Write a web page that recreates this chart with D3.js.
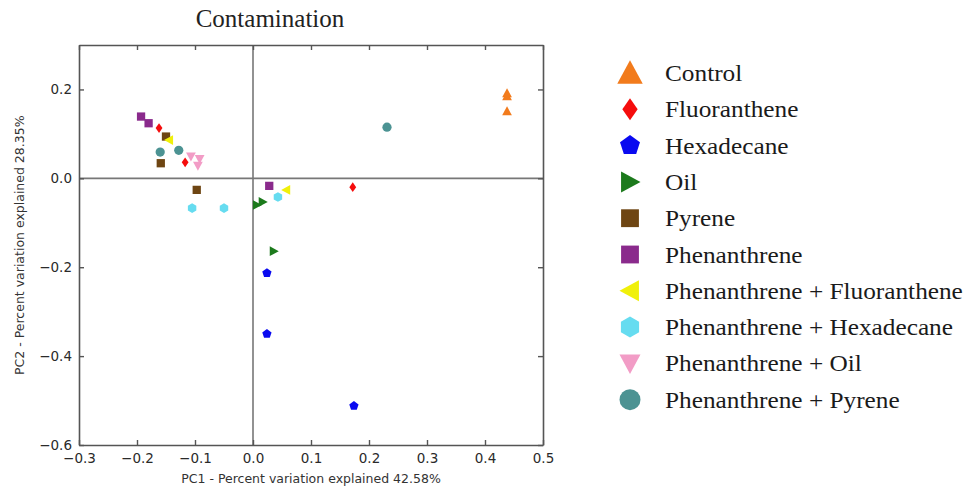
<!DOCTYPE html>
<html>
<head>
<meta charset="utf-8">
<script src="https://cdn.jsdelivr.net/npm/d3@7"></script>
<style>
  body { margin: 0; background: #fff; }
  svg { display: block; }
  .tick text { font-family: "DejaVu Sans", sans-serif; font-size: 13.5px; fill: #2a2a2a; }
  .frame path.domain { stroke: #555; stroke-width: 1.6; }
  .frame .tick line { stroke: #555; stroke-width: 1.4; }
  .axis-label { font-family: "DejaVu Sans", sans-serif; font-size: 12.5px; fill: #333; }
  .title { font-family: "Liberation Serif", serif; font-size: 25px; fill: #222; }
  .leg-label { font-family: "Liberation Serif", serif; font-size: 23px; fill: #1a1a1a; }
</style>
</head>
<body>
<svg id="chart" width="970" height="486"></svg>
<script>
// PCoA - contaminacion
const groups = [
  "Control", "Fluoranthene", "Hexadecane", "Oil", "Pyrene", "Phenanthrene",
  "Phenanthrene + Fluoranthene", "Phenanthrene + Hexadecane",
  "Phenanthrene + Oil", "Phenanthrene + Pyrene"
];

// PC1 por grupo (3 replicas)
const pc1Values = [
  [0.438, 0.438, 0.438],
  [-0.162, -0.117, 0.172],
  [0.024, 0.024, 0.174],
  [0.007, 0.017, 0.036],
  [-0.150, -0.159, -0.097],
  [-0.193, -0.180, 0.028],
  [-0.145, 0.057],
  [-0.105, -0.050, 0.043],
  [-0.107, -0.092, -0.095],
  [-0.160, -0.128, 0.231]
];

// PC2 por grupo
const pc2Values = [
  [0.192, 0.185, 0.151],
  [0.113, 0.036, -0.020],
  [-0.213, -0.350, -0.512],
  [-0.060, -0.053, -0.164],
  [0.094, 0.034, -0.026],
  [0.139, 0.124, -0.017],
  [0.086, -0.026],
  [-0.067, -0.067, -0.042],
  [0.049, 0.043, 0.028],
  [0.059, 0.063, 0.115]
];

const xTicks = [-0.3, -0.2, -0.1, 0.0, 0.1, 0.2, 0.3, 0.4, 0.5];
const yTicks = [-0.6, -0.4, -0.2, 0.0, 0.2];

const colors = ["#f27b1c", "#f50d0d", "#0a0af0", "#1c7a1c", "#6e4512", "#8a2a8c",
                "#f0f00a", "#66dcf0", "#f29cc6", "#4c9393"];

// Formas de marcadores (tipo matplotlib)
function poly(pts) {
  return {
    draw(ctx, size) {
      const r = Math.sqrt(size) / 2;
      pts.forEach((p, i) => i ? ctx.lineTo(p[0] * r, p[1] * r) : ctx.moveTo(p[0] * r, p[1] * r));
      ctx.closePath();
    }
  };
}
function regular(n) {
  return d3.range(n).map(k => {
    const a = -Math.PI / 2 + k * 2 * Math.PI / n;
    return [Math.cos(a), Math.sin(a)];
  });
}
const triUp = poly([[0, -1], [1, 0.85], [-1, 0.85]]);
const triDown = poly([[0, 1], [1, -0.85], [-1, -0.85]]);
const triRight = poly([[1, 0], [-0.85, -1], [-0.85, 1]]);
const triLeft = poly([[-1, 0], [0.85, -1], [0.85, 1]]);
const diamond = poly([[0, -1], [0.7, 0], [0, 1], [-0.7, 0]]);
const square = poly([[-0.85, -0.85], [0.85, -0.85], [0.85, 0.85], [-0.85, 0.85]]);
const pentagon = poly(regular(5));
const hexagon = poly(regular(6));
const circle = { draw(ctx, size) { const r = Math.sqrt(size) / 2; ctx.moveTo(r, 0); ctx.arc(0, 0, r, 0, 2 * Math.PI); } };

const shapes = [triUp, diamond, pentagon, triRight, square, square, triLeft, hexagon, triDown, circle];

const svg = d3.select("#chart");
const margin = { left: 79, right: 427, top: 45, bottom: 41 };
const W = 970, H = 486;

const x = d3.scaleLinear().domain([-0.3, 0.5]).range([margin.left, W - margin.right]);
const y = d3.scaleLinear().domain([-0.6, 0.3]).range([H - margin.bottom, margin.top]);
const fmt = d3.format(".1f");

svg.append("rect").attr("width", W).attr("height", H).attr("fill", "#fff");

// lineas del cero
svg.append("line")
  .attr("x1", x(0)).attr("x2", x(0)).attr("y1", y(0.3)).attr("y2", y(-0.6))
  .attr("stroke", "#777").attr("stroke-width", 1.6);
svg.append("line")
  .attr("x1", x(-0.3)).attr("x2", x(0.5)).attr("y1", y(0)).attr("y2", y(0))
  .attr("stroke", "#777").attr("stroke-width", 1.6);

// marco con ticks hacia dentro
svg.append("g").attr("class", "frame")
  .attr("transform", `translate(0,${y(-0.6)})`)
  .call(d3.axisBottom(x).tickValues(xTicks).tickFormat(fmt).tickSizeInner(-5).tickSizeOuter(0).tickPadding(8));
svg.append("g").attr("class", "frame")
  .attr("transform", `translate(0,${y(0.3)})`)
  .call(d3.axisTop(x).tickValues(xTicks).tickFormat("").tickSizeInner(-5).tickSizeOuter(0));
svg.append("g").attr("class", "frame")
  .attr("transform", `translate(${x(-0.3)},0)`)
  .call(d3.axisLeft(y).tickValues(yTicks).tickFormat(fmt).tickSizeInner(-5).tickSizeOuter(0).tickPadding(7));
svg.append("g").attr("class", "frame")
  .attr("transform", `translate(${x(0.5)},0)`)
  .call(d3.axisRight(y).tickValues(yTicks).tickFormat("").tickSizeInner(-5).tickSizeOuter(0));

// puntos
const pts = [];
groups.forEach((g, gi) => {
  pc1Values[gi].forEach((v, j) => pts.push({ gi, pc1: v, pc2: pc2Values[gi][j] }));
});

svg.append("g").selectAll("path")
  .data(pts)
  .enter().append("path")
  .attr("transform", d => `translate(${x(d.pc1)},${y(d.pc2)})`)
  .attr("d", d => d3.symbol().type(shapes[d.gi]).size(d.gi === 9 ? 85 : 95)())
  .attr("fill", d => colors[d.gi]);

// textos
svg.append("text").attr("class", "title")
  .attr("x", 270).attr("y", 27).attr("text-anchor", "middle").text("Contamination");
svg.append("text").attr("class", "axis-label")
  .attr("x", x(0.1)).attr("y", 483).attr("text-anchor", "middle")
  .text("PC1 - Percent variation explained 42.58%");
svg.append("text").attr("class", "axis-label")
  .attr("transform", `translate(24,${y(-0.2) - 22}) rotate(-90)`).attr("text-anchor", "middle")
  .text("PC2 - Percent variation explained 28.35%");

// leyenda
const legendX = 630, legendY0 = 73, legendStep = 36.3;
const leg = svg.append("g");
groups.forEach((g, i) => {
  const cy = legendY0 + i * legendStep;
  const sz = i === 0 ? 650 : (i === 1 ? 480 : 440);
  leg.append("path")
    .attr("transform", `translate(${legendX},${cy})`)
    .attr("d", d3.symbol().type(shapes[i]).size(sz)())
    .attr("fill", colors[i]);
  leg.append("text").attr("class", "leg-label")
    .attr("transform", `translate(665,${cy + 8}) scale(1.1,1)`)
    .text(g);
});
</script>
</body>
</html>
